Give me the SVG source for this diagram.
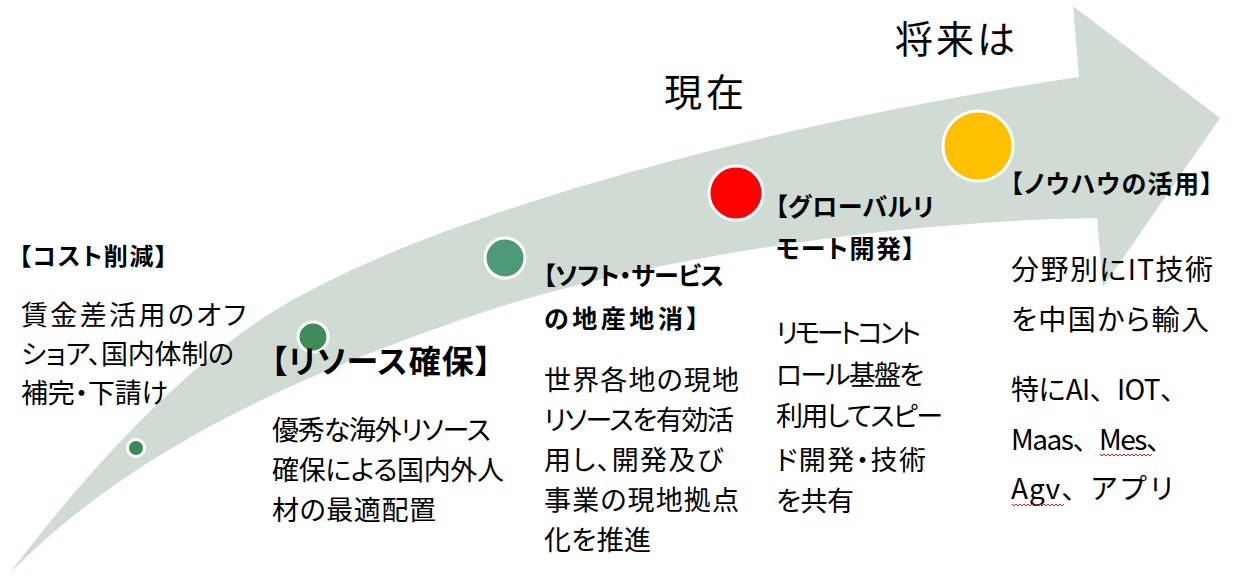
<svg xmlns="http://www.w3.org/2000/svg" width="1245" height="579" viewBox="0 0 1245 579">
<style>
.t{font-family:"Noto Sans CJK JP","Noto Sans",sans-serif;fill:#000;font-feature-settings:"palt";}
.np{font-feature-settings:normal;}
.h{font-weight:bold;}
.s24{font-size:24px;}
.s25{font-size:25px;}
.s27{font-size:27px;}
.s28{font-size:28px;}
.s32{font-size:32px;}
.big{font-size:38px;}
.dot{stroke:#fff;stroke-width:3;}
.wave{fill:none;stroke:#e02020;stroke-width:1;}
</style>
<rect width="1245" height="579" fill="#fff"/>
<g id="arrow">
<path d="M10,573 C80,480 170,380 260,320 C420,213 800,118 1079,77 L1073,6 L1220,118 L1103,287 L1097,218 C850,222 600,270 460,320 C348,360 150,430 10,573 Z" fill="#D0DBD3"/>
</g>
<g id="labels-time">
<text class="t big" x="664" y="106" textLength="80">現在</text>
<text class="t big" x="895" y="53" textLength="120">将来は</text>
</g>
<g id="node1">
<circle class="dot" cx="136" cy="448" r="8.5" fill="#3D8A55"/>
<text class="t h s24" x="19" y="265" textLength="148">【コスト削減】</text>
<text class="t s27" x="21" y="325" textLength="225">賃金差活用のオフ</text>
<text class="t s27" x="21" y="364" textLength="213">ショア、国内体制の</text>
<text class="t s27" x="21" y="403" textLength="147">補完・下請け</text>
</g>
<g id="node2">
<circle class="dot" cx="313" cy="337" r="15" fill="#3F8B5A"/>
<text class="t h s32" x="271" y="373" textLength="220">【リソース確保】</text>
<text class="t s27" x="272" y="440" textLength="219">優秀な海外リソース</text>
<text class="t s27" x="272" y="480" textLength="232">確保による国内外人</text>
<text class="t s27" x="272" y="520" textLength="164">材の最適配置</text>
</g>
<g id="node3">
<circle class="dot" cx="505" cy="258" r="20" fill="#4E9A78"/>
<text class="t h s25" x="543" y="285" textLength="181">【ソフト・サービス</text>
<text class="t h s25" x="544" y="328" textLength="155">の地産地消】</text>
<text class="t s27" x="544" y="390" textLength="195">世界各地の現地</text>
<text class="t s27" x="544" y="430" textLength="190">リソースを有効活</text>
<text class="t s27" x="544" y="470" textLength="179">用し、開発及び</text>
<text class="t s27" x="544" y="510" textLength="195">事業の現地拠点</text>
<text class="t s27" x="544" y="550" textLength="107">化を推進</text>
</g>
<g id="node4">
<circle class="dot" cx="736" cy="193" r="27" fill="#FF0000"/>
<text class="t h s25" x="775" y="216" textLength="159">【グローバルリ</text>
<text class="t h s25" x="776" y="258" textLength="139">モート開発】</text>
<text class="t s27" x="776" y="343" textLength="145">リモートコント</text>
<text class="t s27" x="776" y="385" textLength="148">ロール基盤を</text>
<text class="t s27" x="776" y="426" textLength="167">利用してスピー</text>
<text class="t s27" x="776" y="470" textLength="150">ド開発・技術</text>
<text class="t s27" x="776" y="511" textLength="78">を共有</text>
</g>
<g id="node5">
<circle class="dot" cx="978" cy="146" r="35" fill="#FFC000"/>
<text class="t h s25" x="1010" y="193" textLength="203">【ノウハウの活用】</text>
<text class="t s28" x="1011" y="280" textLength="202">分野別にIT技術</text>
<text class="t s28" x="1011" y="330" textLength="198">を中国から輸入</text>
<text class="t np s28" x="1011" y="400" textLength="177">特にAI、IOT、</text>
<text class="t np s28" x="1011" y="450" textLength="163">Maas、Mes、</text>
<text class="t np s28" x="1011" y="499" textLength="165">Agv、アプリ</text>
<path class="wave" d="M1100,454 l2,2 l2,-2 l2,2 l2,-2 l2,2 l2,-2 l2,2 l2,-2 l2,2 l2,-2 l2,2 l2,-2 l2,2 l2,-2 l2,2 l2,-2 l2,2 l2,-2 l2,2 l2,-2 l2,2 l2,-2 l2,2 l2,-2 l2,2 l2,-2"/>
<path class="wave" d="M1012,504 l2,2 l2,-2 l2,2 l2,-2 l2,2 l2,-2 l2,2 l2,-2 l2,2 l2,-2 l2,2 l2,-2 l2,2 l2,-2 l2,2 l2,-2 l2,2 l2,-2 l2,2 l2,-2 l2,2 l2,-2 l2,2 l2,-2 l2,2 l2,-2"/>
</g>
</svg>
